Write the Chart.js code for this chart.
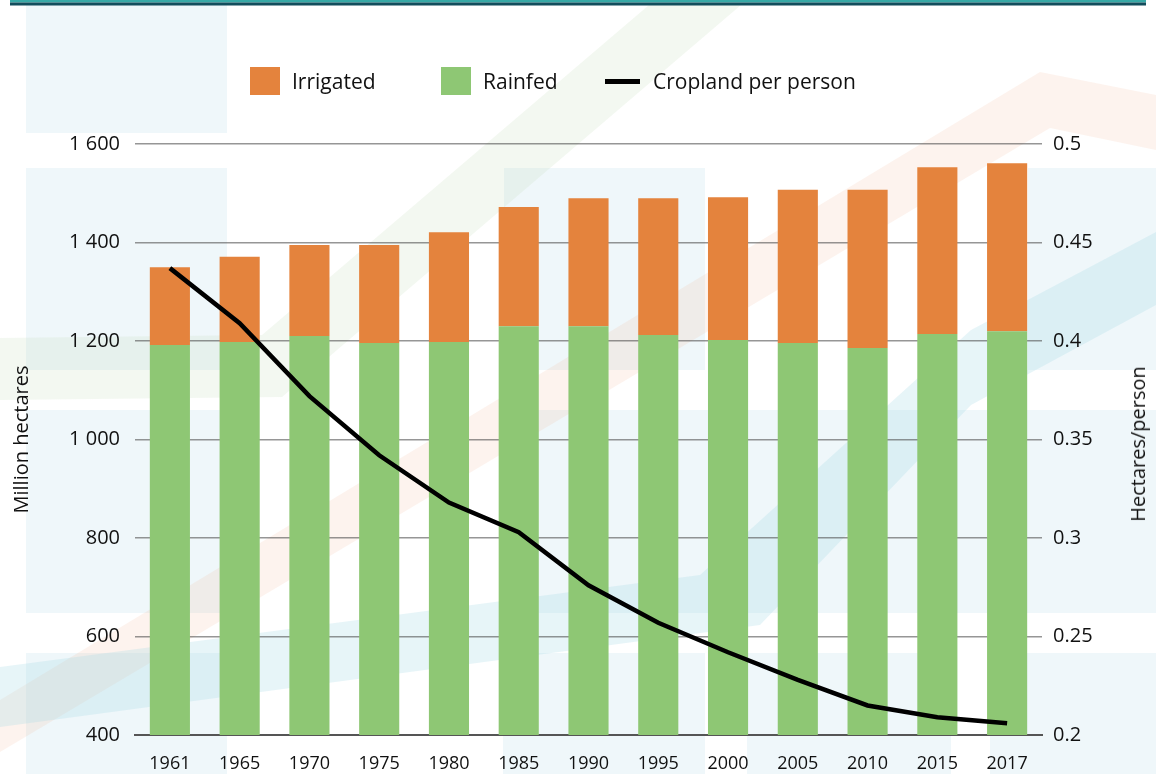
<!DOCTYPE html>
<html>
<head>
<meta charset="utf-8">
<script src="https://cdn.jsdelivr.net/npm/chart.js@4.4.1/dist/chart.umd.min.js"></script>
<style>
  html, body { margin: 0; padding: 0; background: #fff; }
  #wrap { position: relative; width: 1156px; height: 774px; overflow: hidden; }
  #chart { position: absolute; left: 0; top: 0; }
  .leg { position: absolute; top: 67px; height: 28px; display: flex; align-items: center;
         font-family: "Open Sans", "Noto Sans", sans-serif; font-size: 21px; color: #111; }
  .leg .box { width: 30px; height: 28px; margin-right: 12px; }
  .leg .ln { width: 35px; height: 5px; background: #000; margin-right: 13px; }
  #rtitle { position: absolute; left: 1138px; top: 444px; white-space: nowrap;
            transform: translate(-50%, -50%) rotate(-90deg);
            font-family: "Open Sans", "Noto Sans", sans-serif; font-size: 20px; color: #111; line-height: 1; }
</style>
</head>
<body>
<div id="wrap">
  <canvas id="chart" width="1156" height="774"></canvas>
  <div class="leg" style="left:250px"><span class="box" style="background:#e4833d"></span>Irrigated</div>
  <div class="leg" style="left:441px"><span class="box" style="background:#8ec774"></span>Rainfed</div>
  <div class="leg" style="left:605px"><span class="ln"></span>Cropland per person</div>
  <div id="rtitle">Hectares/person</div>
</div>
<script>
const years = ['1961', '1965', '1970', '1975', '1980', '1985', '1990', '1995', '2000', '2005', '2010', '2015', '2017'];
const rainfed = [1192, 1198, 1210, 1196, 1198, 1230, 1230, 1212, 1202, 1196, 1186, 1214, 1220];
const irrigated = [158, 173, 185, 199, 223, 242, 260, 278, 290, 311, 321, 339, 341];
const croplandPerPerson = [0.437, 0.409, 0.372, 0.342, 0.318, 0.303, 0.276, 0.257, 0.242, 0.228, 0.215, 0.209, 0.206];

const FONT = '"Open Sans", "Noto Sans", sans-serif';

function poly(ctx, pts, color) {
    ctx.beginPath();
    pts.forEach(([x, y], i) => i ? ctx.lineTo(x, y) : ctx.moveTo(x, y));
    ctx.closePath();
    ctx.fillStyle = color;
    ctx.fill();
}

// faint background tiles and stripes behind the plot
const backdrop = {
    id: 'backdrop',
    beforeDraw(chart) {
        const ctx = chart.ctx;
        ctx.save();
        ctx.fillStyle = '#fff';
        ctx.fillRect(0, 0, chart.width, chart.height);

        const tile = 'rgba(205,230,240,0.33)';
        [[26, 5, 201, 128], [26, 168, 201, 202], [504, 168, 201, 202], [1028, 168, 128, 202],
         [26, 410, 201, 203], [504, 410, 652, 203],
         [26, 653, 201, 121], [503, 653, 202, 121], [747, 653, 204, 121], [990, 653, 166, 121]]
            .forEach(([x, y, w, h]) => { ctx.fillStyle = tile; ctx.fillRect(x, y, w, h); });

        // green chevron
        poly(ctx, [[649, 5], [741, 5], [282, 397], [0, 400], [0, 338], [262, 335]], 'rgba(200,225,190,0.22)');
        // orange chevron
        poly(ctx, [[0, 700], [1040, 72], [1156, 95], [1156, 150], [1050, 128], [0, 752]], 'rgba(240,180,150,0.16)');
        // blue band
        poly(ctx, [[0, 667], [700, 575], [971, 330], [1156, 232], [1156, 305], [971, 405], [760, 625], [0, 727]],
             'rgba(170,220,230,0.28)');

        // top rule
        ctx.fillStyle = '#37a9a6';
        ctx.fillRect(10, 0, 1136, 2.5);
        ctx.fillStyle = '#124d5c';
        ctx.fillRect(10, 2.5, 1136, 3);
        ctx.restore();
    }
};

const thousands = v => v >= 1000 ? Math.floor(v / 1000) + ' ' + String(v % 1000).padStart(3, '0') : String(v);

new Chart(document.getElementById('chart'), {
    type: 'bar',
    data: {
        labels: years,
        datasets: [
            { label: 'Cropland per person', type: 'line', data: croplandPerPerson, yAxisID: 'y1',
              borderColor: '#000', borderWidth: 4.5, pointRadius: 0, tension: 0, order: 0 },
            { label: 'Rainfed', data: rainfed, backgroundColor: '#8ec774', yAxisID: 'y', order: 1 },
            { label: 'Irrigated', data: irrigated, backgroundColor: '#e4833d', yAxisID: 'y', order: 1 }
        ]
    },
    options: {
        responsive: false,
        animation: false,
        layout: { padding: { top: 144, right: 0, bottom: 0, left: 0 } },
        datasets: { bar: { categoryPercentage: 1, barPercentage: 0.575 } },
        plugins: { legend: { display: false }, tooltip: { enabled: false } },
        scales: {
            x: {
                stacked: true,
                grid: { display: false },
                border: { display: true, color: '#555', width: 2 },
                ticks: { color: '#111', font: { family: FONT, size: 18 }, padding: 10, maxRotation: 0 },
                afterFit: s => { s.height = 39; }
            },
            y: {
                stacked: true,
                min: 400, max: 1600,
                z: 1,
                grid: { color: 'rgba(80,80,80,0.6)', lineWidth: 1.5, drawTicks: false },
                border: { display: false },
                ticks: { stepSize: 200, color: '#111', font: { family: FONT, size: 20 }, padding: 15,
                         callback: v => thousands(v) },
                title: { display: true, text: 'Million hectares', color: '#111',
                         font: { family: FONT, size: 20 }, padding: { top: 10, bottom: 0 } },
                afterFit: s => { s.width = 135; }
            },
            y1: {
                position: 'right',
                min: 0.2, max: 0.5,
                grid: { display: false, drawTicks: false },
                border: { display: false },
                ticks: { stepSize: 0.05, color: '#111', font: { family: FONT, size: 20 }, padding: 11,
                         callback: v => String(+v.toFixed(2)) },
                afterFit: s => { s.width = 114; }
            }
        }
    },
    plugins: [backdrop]
});
</script>
</body>
</html>
